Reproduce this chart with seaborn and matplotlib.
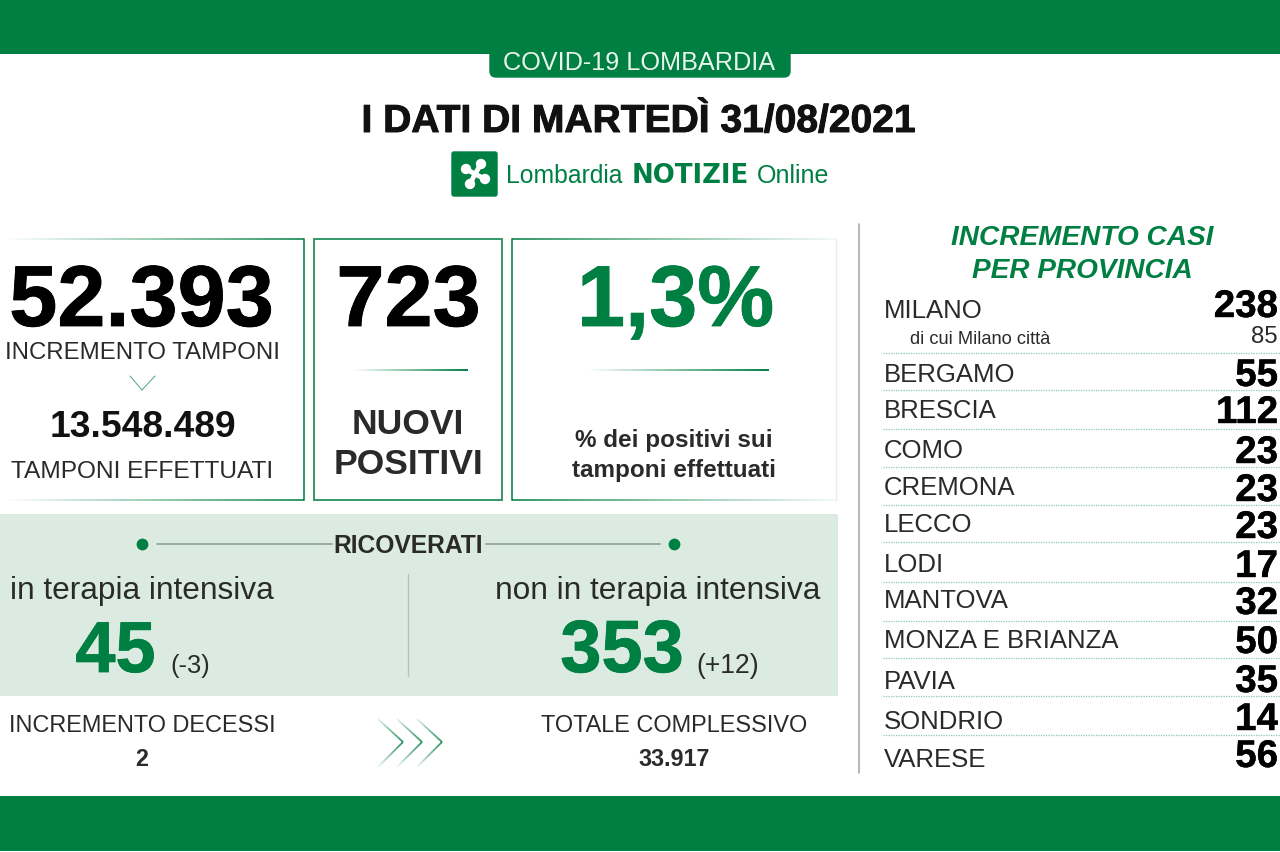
import numpy as np
import pandas as pd
import matplotlib.pyplot as plt
import matplotlib.patheffects as pe
import seaborn as sns
from matplotlib.patches import Rectangle, FancyBboxPatch, Circle
from matplotlib.collections import LineCollection
from matplotlib.colors import to_rgba

# data
province = ['MILANO', 'BERGAMO', 'BRESCIA', 'COMO', 'CREMONA', 'LECCO', 'LODI',
            'MANTOVA', 'MONZA E BRIANZA', 'PAVIA', 'SONDRIO', 'VARESE']
casi = [238, 55, 112, 23, 23, 23, 17, 32, 50, 35, 14, 56]
milano_citta = 85
tamponi_incr = '52.393'
tamponi_tot = '13.548.489'
nuovi_positivi = '723'
perc_positivi = '1,3%'
terapia_int = '45'
terapia_int_diff = '(-3)'
non_terapia_int = '353'
non_terapia_int_diff = '(+12)'
decessi_incr = '2'
decessi_tot = '33.917'

# layout, pixels
label_base = [318, 382, 418, 458, 495, 532, 572, 608, 648, 689, 729, 767]
value_base = [318, 387, 424, 464, 502, 539, 578, 615, 654, 693, 731, 768]
dotted_y = [354, 391, 430, 468, 506, 543, 583, 622, 659, 697, 736]

GREEN = '#007f42'
BLACK = '#111111'
DARK = '#2a2a2a'

sns.set_theme(style='white')
plt.rcParams['font.family'] = ['Liberation Sans', 'DejaVu Sans']

fig = plt.figure(figsize=(12.8, 8.53), dpi=100)
ax = fig.add_axes([0, 0, 1, 1])
ax.set_xlim(0, 1280)
ax.set_ylim(853, 0)
ax.axis('off')


def txt(x, y, s, px, color=DARK, ha='center', weight='normal', style='normal',
        stroke=0, **kw):
    # px is the em size in image pixels
    t = ax.text(x, y, s, fontsize=px * 0.72, color=color, ha=ha, va='baseline',
                fontweight=weight, fontstyle=style, **kw)
    if stroke:
        t.set_path_effects([pe.withStroke(linewidth=stroke, foreground=color)])
    return t


def fade_line(x0, x1, y0, y1, color=GREEN, lw=1.4, a0=0.0, a1=1.0):
    xs = np.linspace(x0, x1, 40)
    ys = np.linspace(y0, y1, 40)
    segs = [[(xs[i], ys[i]), (xs[i + 1], ys[i + 1])] for i in range(39)]
    cols = [to_rgba(color, a) for a in np.linspace(a0, a1, 39)]
    ax.add_collection(LineCollection(segs, colors=cols, linewidths=lw))


# bands
ax.add_patch(Rectangle((0, 0), 1280, 55, color=GREEN, lw=0))
ax.add_patch(Rectangle((0, 797), 1280, 55, color=GREEN, lw=0))
ax.add_patch(FancyBboxPatch((490, 45), 300, 33, boxstyle='round,pad=0,rounding_size=6',
                            fc=GREEN, ec=GREEN, lw=1))
txt(639.5, 70, 'COVID-19 LOMBARDIA', 25.3, color='#e8f4ec')
txt(638.5, 133, 'I DATI DI MARTEDÌ 31/08/2021', 39, color=BLACK, weight='bold', stroke=0.7)

# logo
ax.add_patch(FancyBboxPatch((452, 153), 45, 44, boxstyle='round,pad=0,rounding_size=2',
                            fc=GREEN, ec=GREEN, lw=1))
cx, cy = 475, 175
for dx, dy in [(-9, -5), (6, -10), (10, 5), (-5, 10)]:
    ax.plot([cx, cx + dx], [cy, cy + dy], color='white', lw=3.5, solid_capstyle='round')
    ax.add_patch(Circle((cx + dx, cy + dy), 5.2, color='white', lw=0))
txt(506, 183, 'Lombardia', 24.8, color=GREEN, ha='left')
txt(632, 183, 'NOTIZIE', 26, color=GREEN, ha='left', weight='bold', family='DejaVu Sans')
txt(757, 183, 'Online', 25, color=GREEN, ha='left')

# boxes
ax.plot([304, 304], [240, 501], color=GREEN, lw=1.4, alpha=0.8)
fade_line(0, 304, 240, 240, a1=0.8)
fade_line(0, 304, 501, 501, a1=0.8)
ax.add_patch(Rectangle((314, 240), 188, 261, fc='none', ec=GREEN, lw=1.4, alpha=0.8))
ax.plot([512, 512], [240, 501], color=GREEN, lw=1.4, alpha=0.8)
fade_line(512, 836, 240, 240, a0=0.8, a1=0.05)
fade_line(512, 836, 501, 501, a0=0.8, a1=0.05)
ax.plot([836, 836], [240, 501], color='#ececec', lw=1)

txt(141.5, 327, tamponi_incr, 86.5, color='black', weight='bold', stroke=0.6)
txt(142, 359, 'INCREMENTO TAMPONI', 24)
ax.plot([130, 142, 155], [377, 391, 377], color=GREEN, lw=0.7, alpha=0.7)
txt(142.5, 437, tamponi_tot, 37.2, color=BLACK, weight='bold')
txt(142, 478, 'TAMPONI EFFETTUATI', 24.5)

txt(408.5, 327, nuovi_positivi, 86.5, color='black', weight='bold', stroke=0.6)
fade_line(352, 468, 371, 371)
txt(408, 434, 'NUOVI', 35.5, weight='bold')
txt(408, 474, 'POSITIVI', 35.5, weight='bold')

txt(675.5, 327, perc_positivi, 86.5, color=GREEN, weight='bold', stroke=0.6)
fade_line(585, 769, 371, 371)
txt(674, 447, '% dei positivi sui', 24.2, weight='bold')
txt(674, 477, 'tamponi effettuati', 24.2, weight='bold')

# ricoverati
ax.add_patch(Rectangle((0, 515), 838, 182, color='#dbebe1', lw=0))
dots = pd.DataFrame({'x': [142, 674], 'y': [545, 545]})
sns.scatterplot(data=dots, x='x', y='y', ax=ax, color=GREEN, s=72, linewidth=0, legend=False, zorder=3)
ax.set_xlim(0, 1280)
ax.set_ylim(853, 0)
ax.plot([157, 332], [545, 545], color='#90a89a', lw=1.3)
ax.plot([486, 660], [545, 545], color='#90a89a', lw=1.3)
txt(408, 553, 'RICOVERATI', 24.6, weight='bold')
ax.plot([408, 408], [575, 677], color='#b0c4b8', lw=1)
txt(141.5, 599, 'in terapia intensiva', 31.6)
txt(658, 599, 'non in terapia intensiva', 31.6)
txt(115.5, 673, terapia_int, 72, color=GREEN, weight='bold', stroke=0.6)
txt(190, 673, terapia_int_diff, 25.5)
txt(622, 673, non_terapia_int, 74, color=GREEN, weight='bold', stroke=0.6)
txt(728, 673, non_terapia_int_diff, 26.5)

# decessi
txt(142, 732, 'INCREMENTO DECESSI', 23.5)
txt(142, 766, decessi_incr, 23.3, weight='bold')
txt(674, 732, 'TOTALE COMPLESSIVO', 23.5)
txt(674, 766, decessi_tot, 23.3, weight='bold')
for tip in [403, 422, 442]:
    fade_line(tip - 25, tip, 720, 743, lw=1.2, a0=0.1)
    fade_line(tip, tip - 25, 743, 768, lw=1.2, a0=1, a1=0.05)

# province column
ax.plot([859, 859], [225, 774], color='#aaaaaa', lw=1.2)
txt(1082.5, 245, 'INCREMENTO CASI', 28, color=GREEN, weight='bold', style='italic')
txt(1082.5, 278, 'PER PROVINCIA', 28, color=GREEN, weight='bold', style='italic')
for y in dotted_y:
    ax.plot([883, 1280], [y, y], color='#8ccbaa', lw=0.9, ls=(0, (1, 1)))
for name, val, yl, yv in zip(province, casi, label_base, value_base):
    txt(884, yl, name, 25.7, ha='left')
    txt(1278, yv, str(val), 38.5, color='black', ha='right', weight='bold', stroke=0.3)
txt(910, 344, 'di cui Milano città', 18.3, ha='left')
txt(1278, 343, str(milano_citta), 24, ha='right')

fig.savefig('out.png', dpi=100)
